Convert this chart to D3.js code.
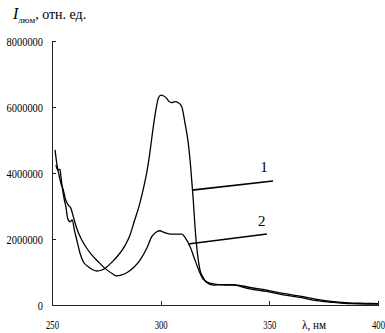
<!DOCTYPE html>
<html>
<head>
<meta charset="utf-8">
<script src="https://cdn.jsdelivr.net/npm/d3@7"></script>
<style>
  body { margin: 0; background: #fff; }
  svg { display: block; }
  .axis path, .axis line { stroke: #222; shape-rendering: crispEdges; }
  .axis text { font-family: "Liberation Serif", serif; font-size: 13px; fill: #000; }
  .curve { fill: none; stroke: #000; stroke-width: 1.3; }
</style>
</head>
<body>
<div id="chart"></div>
<script>
// chart size
var width = 385,
    height = 333;

// wavelength (nm) and intensity (millions of rel. units), curve 1
var lambda1 = [251.8, 252.6, 253.7, 254.1, 254.7, 255.7, 256.4, 257.2, 258.3, 259.3, 260.3, 261.4, 262.9,
    264.4, 266.7, 269.0, 270.6, 272.9, 274.8, 277.6, 280.4, 283.6, 285.9, 287.7, 290.5, 292.3, 293.7,
    295.1, 296.5, 297.9, 299.0, 300.2, 301.2, 302.8, 303.8, 305.1, 306.6, 308.1, 309.7, 311.2, 312.7,
    313.8, 315.0, 315.8, 316.9, 318.1, 319.3, 321.2, 324.2, 327.3, 333.4, 341.1, 348.8, 356.4, 364.1,
    371.8, 379.4, 387.1, 394.0, 400.0];
var value1 = [4.24, 4.09, 4.11, 3.89, 3.58, 3.18, 2.98, 2.63, 2.52, 2.58, 2.27, 1.97, 1.57,
    1.31, 1.16, 1.06, 1.03, 1.06, 1.13, 1.30, 1.50, 1.80, 2.12, 2.50, 3.10, 3.60, 4.05,
    4.65, 5.35, 5.95, 6.28, 6.36, 6.34, 6.26, 6.17, 6.13, 6.16, 6.13, 6.01, 5.51, 4.90,
    4.19, 3.18, 2.37, 1.57, 1.06, 0.86, 0.68, 0.60, 0.62, 0.62, 0.53, 0.45, 0.35, 0.27,
    0.17, 0.10, 0.06, 0.05, 0.04];

// curve 2
var lambda2 = [251.4, 252.2, 252.9, 254.1, 255.2, 256.3, 257.5, 258.7, 259.8, 261.4, 263.7, 266.0, 268.3,
    271.3, 274.4, 277.5, 279.8, 282.1, 285.1, 287.9, 290.5, 293.6, 295.9, 298.2, 299.7, 301.2, 304.3,
    309.7, 311.2, 313.5, 315.8, 317.8, 319.6, 322.7, 327.3, 333.4, 341.1, 348.8, 356.4, 364.1, 371.8,
    379.4, 387.1, 394.0, 400.0];
var value2 = [4.70, 4.29, 4.04, 3.69, 3.48, 3.18, 3.03, 2.93, 2.68, 2.32, 1.97, 1.72, 1.52,
    1.31, 1.11, 0.96, 0.88, 0.91, 1.01, 1.16, 1.36, 1.72, 2.07, 2.22, 2.25, 2.21, 2.15,
    2.15, 2.05, 1.77, 1.36, 1.01, 0.78, 0.66, 0.61, 0.60, 0.49, 0.41, 0.31, 0.23, 0.13,
    0.08, 0.04, 0.03, 0.03];

// leader lines from the curves to their numbers
var leaderLambda = [[314.4, 351.7], [312.6, 348.9]];
var leaderValue = [[3.48, 3.76], [1.85, 2.15]];
var curveNames = ["1", "2"];
var nameLambda = [347.5, 346.5];
var nameValue = [4.2, 2.55];

// axis ticks
var xTicks = [250, 300, 350, 400];
var yTicks = [0, 2000000, 4000000, 6000000, 8000000];

var svg = d3.select("#chart").append("svg")
    .attr("width", width)
    .attr("height", height);

// scales
var x = d3.scaleLinear().domain([250, 400]).range([52, 378]);
var y = d3.scaleLinear().domain([0, 8000000]).range([305, 41]);

// y axis, ticks pointing inside
var yAxis = svg.append("g")
    .attr("class", "axis")
    .attr("transform", "translate(52,0)")
    .call(d3.axisLeft(y).tickValues(yTicks).tickSizeInner(-4).tickSizeOuter(0).tickPadding(9)
        .tickFormat(d3.format("d")));
yAxis.selectAll("text")
    .attr("textLength", function (d) { return String(d).length * 5.2; })
    .attr("lengthAdjust", "spacingAndGlyphs");

// x axis
var xAxis = svg.append("g")
    .attr("class", "axis")
    .attr("transform", "translate(0,305)")
    .call(d3.axisBottom(x).tickValues(xTicks).tickSizeInner(-4).tickSizeOuter(0).tickFormat(d3.format("d")));
xAxis.selectAll("text")
    .attr("y", 24)
    .attr("dy", 0)
    .attr("textLength", 13)
    .attr("lengthAdjust", "spacingAndGlyphs");

// curves
var line = d3.line()
    .x(function (d) { return x(d[0]); })
    .y(function (d) { return y(d[1] * 1e6); })
    .curve(d3.curveMonotoneX);

[[lambda1, value1], [lambda2, value2]].forEach(function (s) {
    svg.append("path")
        .attr("class", "curve")
        .attr("d", line(d3.zip(s[0], s[1])));
});

// leader lines and curve numbers
curveNames.forEach(function (name, i) {
    svg.append("line")
        .attr("x1", x(leaderLambda[i][0]))
        .attr("y1", y(leaderValue[i][0] * 1e6))
        .attr("x2", x(leaderLambda[i][1]))
        .attr("y2", y(leaderValue[i][1] * 1e6))
        .attr("stroke", "#000")
        .attr("stroke-width", 1.6);
    svg.append("text")
        .attr("x", x(nameLambda[i]))
        .attr("y", y(nameValue[i] * 1e6))
        .attr("dy", "0.35em")
        .attr("text-anchor", "middle")
        .style("font-family", "Liberation Serif, serif")
        .style("font-size", "15px")
        .text(name);
});

// axis titles
var yTitle = svg.append("text")
    .attr("x", 13)
    .attr("y", 19)
    .style("font-family", "Liberation Serif, serif")
    .style("font-size", "14px");
yTitle.append("tspan").style("font-style", "italic").style("font-size", "16px").text("I");
yTitle.append("tspan").attr("dy", 4).style("font-size", "9px").text("люм");
yTitle.append("tspan").attr("dy", -4).text(", отн. ед.");

svg.append("text")
    .attr("x", 302)
    .attr("y", 329)
    .attr("textLength", 24)
    .attr("lengthAdjust", "spacingAndGlyphs")
    .style("font-family", "Liberation Serif, serif")
    .style("font-size", "13px")
    .text("λ, нм");
</script>
</body>
</html>
